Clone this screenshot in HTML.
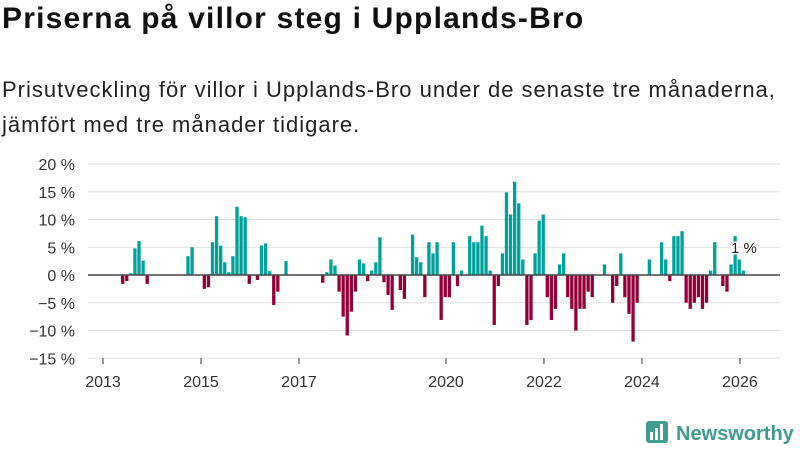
<!DOCTYPE html>
<html><head><meta charset="utf-8">
<style>
body{margin:0;width:800px;height:450px;overflow:hidden;background:#fff;font-family:"Liberation Sans",sans-serif;}
#title{position:absolute;left:2px;top:2px;font-size:30px;font-weight:bold;color:#111;margin:0;letter-spacing:1.2px;white-space:nowrap}
#sub{position:absolute;left:2px;top:72px;font-size:22px;line-height:35px;color:#222;width:800px;letter-spacing:1px;white-space:nowrap}
svg{position:absolute;left:0;top:0}
</style></head><body>
<h1 id="title">Priserna på villor steg i Upplands-Bro</h1>
<div id="sub">Prisutveckling för villor i Upplands-Bro under de senaste tre månaderna,<br>jämfört med tre månader tidigare.</div>
<svg id="chart" width="800" height="450"></svg>
<script>
const monthIdx=[4,5,6,7,8,9,10,20,21,24,25,26,27,28,29,30,31,32,33,34,35,37,38,39,40,41,42,44,
53,54,55,56,57,58,59,60,61,62,63,64,65,66,67,68,69,70,72,73,75,76,77,78,79,80,81,82,83,84,85,86,87,89,90,91,92,93,94,95,96,97,98,99,100,101,102,103,104,
105,106,107,108,109,110,111,112,113,114,115,116,117,118,119,122,124,125,126,127,128,129,130,133,136,137,138,139,140,141,142,143,144,145,146,147,148,149,151,152,153,154,155,156];
const values=[-1.6,-1.1,0.3,4.8,6.1,2.6,-1.6,3.4,5.0,-2.5,-2.2,5.9,10.6,5.3,2.3,0.5,3.4,12.3,10.6,10.4,-1.6,-0.9,5.3,5.7,0.7,-5.4,-3.0,2.5,
-1.4,0.5,2.8,1.7,-3.0,-7.5,-10.9,-6.6,-3.0,2.8,2.1,-1.1,0.8,2.3,6.8,-1.3,-3.6,-6.3,-2.7,-4.3,7.3,3.2,2.3,-4.0,5.9,3.9,5.9,-8.1,-4.0,-4.0,5.9,-2.0,0.8,7.0,5.9,5.9,8.9,7.0,0.8,-9.0,-2.0,3.9,14.9,10.9,16.8,12.9,2.8,-9.0,-8.1,
3.9,9.8,10.9,-4.0,-8.1,-6.1,1.9,3.9,-4.0,-6.1,-10.0,-6.1,-6.1,-3.0,-4.0,1.9,-5.0,-2.0,3.9,-4.0,-7.0,-12.0,-5.0,2.8,5.9,2.8,-1.1,7.0,7.0,7.9,-5.0,-6.1,-5.0,-4.0,-6.1,-5.0,0.8,5.9,-2.0,-3.0,1.9,7.0,2.8,0.8];
const yTicks=[20,15,10,5,0,-5,-10,-15];
const yTickLabels=["20 %","15 %","10 %","5 %","0 %","−5 %","−10 %","−15 %"];
const xTickYears=[2013,2015,2017,2020,2022,2024,2026];
const lastLabel="1 %";

const NS="http://www.w3.org/2000/svg";
const svg=document.getElementById('chart');
const y=v=>275-v*5.55;
const x=m=>103+m*4.083;
function mk(t,a){const e=document.createElementNS(NS,t);for(const k in a)e.setAttribute(k,a[k]);svg.appendChild(e);return e;}
yTicks.forEach((t,i)=>{
  if(t!==0){const g=mk('line',{x1:88,x2:780,y1:y(t),y2:y(t),stroke:'#e0e0e0','stroke-width':1});
  
  }
  const l=mk('text',{x:75,y:y(t)+6,'text-anchor':'end','font-size':16,fill:'#333','font-family':'Liberation Sans, sans-serif'});
  l.textContent=yTickLabels[i];
  
  
});
xTickYears.forEach(yr=>{
  const xx=x((yr-2013)*12);
  const tk=mk('line',{x1:xx,x2:xx,y1:358,y2:364,stroke:'#333','stroke-width':1});
  
  
  const l=mk('text',{x:xx,y:387,'text-anchor':'middle','font-size':16,fill:'#333','font-family':'Liberation Sans, sans-serif'});
  l.textContent=yr;
  
  
});
monthIdx.forEach((m,i)=>{
  const v=values[i];
  const r=mk('rect',{x:x(m)+1.7,width:3.3,y:Math.min(y(v),y(0)),height:Math.abs(y(v)-y(0)),fill:v>=0?'#00a19a':'#930039'});
  
  
});
const z=mk('line',{x1:88,x2:780,y1:y(0),y2:y(0),stroke:'#444','stroke-width':1.5});


const ll=mk('text',{x:731,y:253,'font-size':15,fill:'#222',stroke:'#fff','stroke-width':3,'paint-order':'stroke','font-family':'Liberation Sans, sans-serif'});
ll.textContent=lastLabel;


const lg=mk('g',{});


const sq=document.createElementNS(NS,'rect');
[['x',646],['y',421],['width',22],['height',22],['rx',3],['fill','#3f9c8f']].forEach(a=>sq.setAttribute(a[0],a[1]));lg.appendChild(sq);
[[650,432,4,8],[655,428,4,12],[660,424,4,16]].forEach(b=>{const r=document.createElementNS(NS,'rect');r.setAttribute('x',b[0]);r.setAttribute('y',b[1]);r.setAttribute('width',3);r.setAttribute('height',b[3]);r.setAttribute('fill','#fff');lg.appendChild(r);});
const lt=document.createElementNS(NS,'text');
lt.setAttribute('x',676);lt.setAttribute('y',440);lt.setAttribute('font-size',20);lt.setAttribute('font-weight','bold');lt.setAttribute('fill','#3f9c8f');lt.setAttribute('font-family','Liberation Sans, sans-serif');
lt.textContent='Newsworthy';lg.appendChild(lt);
</script>
</body></html>
